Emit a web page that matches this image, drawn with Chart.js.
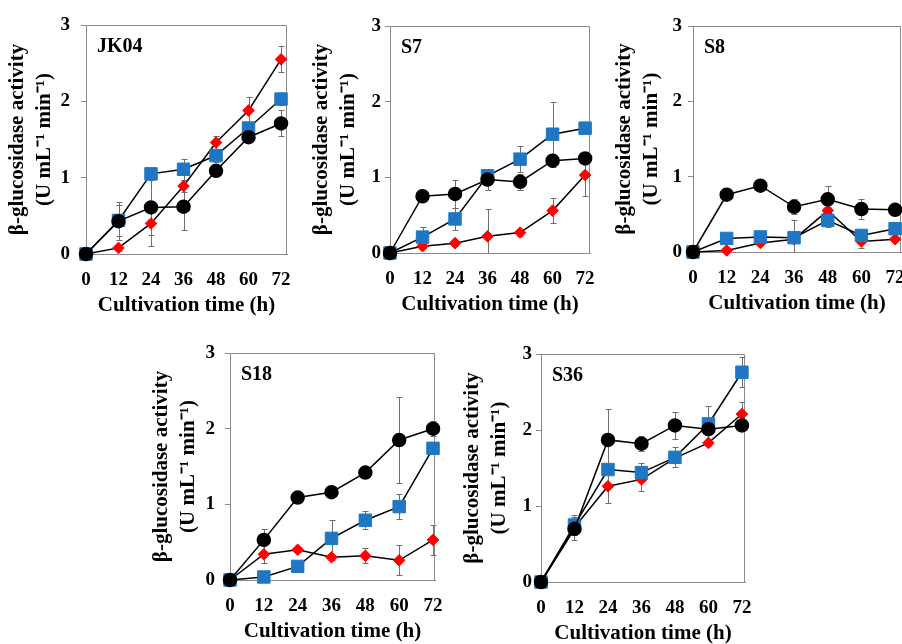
<!DOCTYPE html>
<html>
<head>
<meta charset="utf-8">
<script src="https://cdn.jsdelivr.net/npm/chart.js@4.4.1/dist/chart.umd.min.js"></script>
<style>
  body { margin: 0; background: #fff; width: 902px; height: 644px; overflow: hidden; position: relative; }
  canvas { position: absolute; }
</style>
</head>
<body>
<script>
// sampling times (h)
var hours = [0, 12, 24, 36, 48, 60, 72];
var strains = ['JK04', 'S7', 'S8', 'S18', 'S36'];
var yTicks = [0, 1, 2, 3];

// beta-glucosidase activity (U/mL/min), one array per strain and series
var jk04Circle = [0, 0.43, 0.61, 0.62, 1.09, 1.53, 1.71];
var jk04Square = [0, 0.44, 1.05, 1.11, 1.29, 1.65, 2.03];
var jk04Diamond = [0, 0.08, 0.40, 0.89, 1.46, 1.88, 2.55];
var s7Circle = [0, 0.75, 0.78, 0.97, 0.94, 1.22, 1.25];
var s7Square = [0, 0.21, 0.45, 1.02, 1.24, 1.57, 1.65];
var s7Diamond = [0, 0.09, 0.13, 0.22, 0.27, 0.56, 1.03];
var s8Circle = [0, 0.76, 0.88, 0.60, 0.70, 0.57, 0.56];
var s8Square = [0, 0.18, 0.20, 0.19, 0.42, 0.22, 0.31];
var s8Diamond = [0, 0.02, 0.12, 0.17, 0.55, 0.14, 0.17];
var s18Circle = [0, 0.53, 1.09, 1.16, 1.42, 1.85, 2.00];
var s18Square = [0, 0.04, 0.18, 0.55, 0.79, 0.97, 1.74];
var s18Diamond = [0, 0.34, 0.40, 0.30, 0.32, 0.26, 0.53];
var s36Circle = [0, 0.70, 1.87, 1.82, 2.06, 2.01, 2.06];
var s36Square = [0, 0.75, 1.48, 1.44, 1.64, 2.08, 2.76];
var s36Diamond = [0, 0.72, 1.26, 1.35, 1.63, 1.83, 2.21];

// standard deviations
var jk04CircleErr = [0, 0.25, 0.36, 0.30, 0.06, 0.06, 0.17];
var jk04SquareErr = [0, 0.20, 0.06, 0.14, 0.08, 0.07, 0.08];
var jk04DiamondErr = [0, 0.04, 0.30, 0.08, 0.08, 0.18, 0.17];
var s7CircleErr = [0, 0.03, 0.18, 0.14, 0.11, 0.05, 0.05];
var s7SquareErr = [0, 0.14, 0.15, 0.08, 0.17, 0.43, 0.06];
var s7DiamondErr = [0, 0.03, 0.04, 0.36, 0.04, 0.17, 0.28];
var s8CircleErr = [0, 0.03, 0.03, 0.10, 0.18, 0.13, 0.04];
var s8SquareErr = [0, 0.03, 0.04, 0.24, 0.09, 0.05, 0.04];
var s8DiamondErr = [0, 0.01, 0.03, 0.04, 0.05, 0.09, 0.03];
var s18CircleErr = [0, 0.15, 0.03, 0.04, 0.04, 0.57, 0.10];
var s18SquareErr = [0, 0.02, 0.04, 0.24, 0.12, 0.17, 0.08];
var s18DiamondErr = [0, 0.12, 0.03, 0.03, 0.10, 0.20, 0.20];
var s36CircleErr = [0, 0.15, 0.40, 0.10, 0.18, 0.05, 0.05];
var s36SquareErr = [0, 0.13, 0.05, 0.13, 0.13, 0.23, 0.20];
var s36DiamondErr = [0, 0.10, 0.22, 0.15, 0.05, 0.04, 0.16];

var circles = [jk04Circle, s7Circle, s8Circle, s18Circle, s36Circle];
var squares = [jk04Square, s7Square, s8Square, s18Square, s36Square];
var diamonds = [jk04Diamond, s7Diamond, s8Diamond, s18Diamond, s36Diamond];
var circleErrs = [jk04CircleErr, s7CircleErr, s8CircleErr, s18CircleErr, s36CircleErr];
var squareErrs = [jk04SquareErr, s7SquareErr, s8SquareErr, s18SquareErr, s36SquareErr];
var diamondErrs = [jk04DiamondErr, s7DiamondErr, s8DiamondErr, s18DiamondErr, s36DiamondErr];

// plot box of each panel on the page: left, top, right, bottom, x max, tick gap
var boxes = [
  [86, 25, 287, 254, 74.2, 11],
  [390, 26, 590, 253, 73.8, 4],
  [693, 26, 901, 252, 74.1, 6],
  [230, 353, 435, 580, 72.7, 10],
  [541, 354, 745, 582, 73.1, 4]
];

var serif = '"Liberation Serif", "Times New Roman", serif';
Chart.defaults.font.family = serif;
Chart.defaults.font.weight = 'bold';
Chart.defaults.color = '#000';

var errorBars = {
  id: 'errorBars',
  beforeDatasetsDraw: function (chart) {
    var ctx = chart.ctx, ys = chart.scales.y, a = chart.chartArea;
    ctx.save();
    ctx.beginPath();
    ctx.rect(a.left, a.top - 4, a.right - a.left + 6, a.bottom - a.top + 4);
    ctx.clip();
    ctx.strokeStyle = '#6e6e6e';
    ctx.lineWidth = 1;
    chart.data.datasets.forEach(function (ds, i) {
      chart.getDatasetMeta(i).data.forEach(function (pt, j) {
        var e = ds.errors[j];
        if (!e) return;
        var v = ds.data[j].y;
        var t = Math.round(ys.getPixelForValue(v + e)) + 0.5;
        var b = Math.round(ys.getPixelForValue(v - e)) + 0.5;
        var px = Math.round(pt.x) + 0.5;
        ctx.beginPath();
        ctx.moveTo(px, t); ctx.lineTo(px, b);
        ctx.moveTo(px - 3, t); ctx.lineTo(px + 3, t);
        ctx.moveTo(px - 3, b); ctx.lineTo(px + 3, b);
        ctx.stroke();
      });
    });
    ctx.restore();
  }
};

var frame = {
  id: 'frame',
  beforeDatasetsDraw: function (chart) {
    var a = chart.chartArea, ctx = chart.ctx;
    ctx.save();
    ctx.strokeStyle = '#8a8a8a';
    ctx.lineWidth = 1;
    ctx.beginPath();
    ctx.moveTo(a.left, a.top + 0.5);
    ctx.lineTo(a.right - 0.5, a.top + 0.5);
    ctx.lineTo(a.right - 0.5, a.bottom);
    ctx.stroke();
    ctx.restore();
  },
  afterDraw: function (chart, args, opts) {
    var ctx = chart.ctx, a = chart.chartArea;
    ctx.save();
    ctx.font = 'bold 20px ' + serif;
    ctx.fillStyle = '#000';
    ctx.textBaseline = 'middle';
    ctx.fillText(opts.label, a.left + 11, a.top + 22);
    ctx.restore();
  }
};

function points(vals) {
  return vals.map(function (v, i) { return { x: hours[i], y: v }; });
}

// no label overflow padding: plot box is fixed by layout padding only
function noPad(s) {
  s.paddingTop = 0;
  s.paddingBottom = 0;
  s.paddingLeft = 0;
  s.paddingRight = 0;
}

strains.forEach(function (name, k) {
  var b = boxes[k];
  var left = b[0] - 86;
  var top = b[1] - 14;
  var width = Math.min(902, b[2] + 12) - left;
  var height = (b[3] - b[1]) + 14 + 64;

  var canvas = document.createElement('canvas');
  canvas.width = width;
  canvas.height = height;
  canvas.style.left = left + 'px';
  canvas.style.top = top + 'px';
  document.body.appendChild(canvas);

  new Chart(canvas.getContext('2d'), {
    type: 'line',
    data: {
      datasets: [{
        data: points(circles[k]),
        errors: circleErrs[k],
        borderColor: '#000',
        borderWidth: 1.5,
        pointStyle: 'circle',
        pointRadius: 6.5,
        pointBackgroundColor: '#000',
        pointBorderColor: '#000',
        clip: false
      }, {
        data: points(squares[k]),
        errors: squareErrs[k],
        borderColor: '#000',
        borderWidth: 1.5,
        pointStyle: 'rect',
        pointRadius: 8.8,
        pointBackgroundColor: '#1f77c4',
        pointBorderColor: '#1f77c4',
        pointBorderWidth: 1,
        clip: false
      }, {
        data: points(diamonds[k]),
        errors: diamondErrs[k],
        borderColor: '#000',
        borderWidth: 1.5,
        pointStyle: 'rectRot',
        pointRadius: 5.8,
        pointBackgroundColor: '#ff0000',
        pointBorderColor: '#ff0000',
        pointBorderWidth: 1,
        clip: false
      }]
    },
    options: {
      responsive: false,
      animation: false,
      layout: {
        autoPadding: false,
        padding: { top: 14, left: 0, bottom: 0, right: width - (b[2] - left) }
      },
      plugins: {
        legend: { display: false },
        tooltip: { enabled: false },
        frame: { label: name }
      },
      scales: {
        x: {
          type: 'linear',
          min: 0,
          max: b[4],
          afterFit: function (s) { s.height = 64; noPad(s); },
          grid: { display: false, drawTicks: false },
          border: { display: true, color: '#8a8a8a', width: 1 },
          ticks: {
            stepSize: 12,
            includeBounds: false,
            autoSkip: false,
            maxRotation: 0,
            padding: 15,
            font: { size: 19, weight: 'bold' }
          },
          title: {
            display: true,
            text: 'Cultivation time (h)',
            font: { size: 21, weight: 'bold', lineHeight: 1.2 },
            padding: { top: 0, bottom: 0 }
          }
        },
        y: {
          min: yTicks[0],
          max: yTicks[yTicks.length - 1],
          afterFit: function (s) { s.width = 86; noPad(s); },
          afterBuildTicks: function (s) { s.ticks = yTicks.map(function (v) { return { value: v }; }); },
          grid: { drawOnChartArea: false, drawTicks: true, tickLength: 5, color: '#8a8a8a' },
          border: { display: true, color: '#8a8a8a', width: 1 },
          ticks: { padding: b[5], font: { size: 19, weight: 'bold' } },
          title: {
            display: true,
            text: ['\u03b2-glucosidase activity', '(U mL\u207b\u00b9 min\u207b\u00b9)'],
            font: { size: 21, weight: 'bold', lineHeight: 1.29 },
            padding: { top: 4, bottom: 0 }
          }
        }
      }
    },
    plugins: [errorBars, frame]
  });
});
</script>
</body>
</html>
